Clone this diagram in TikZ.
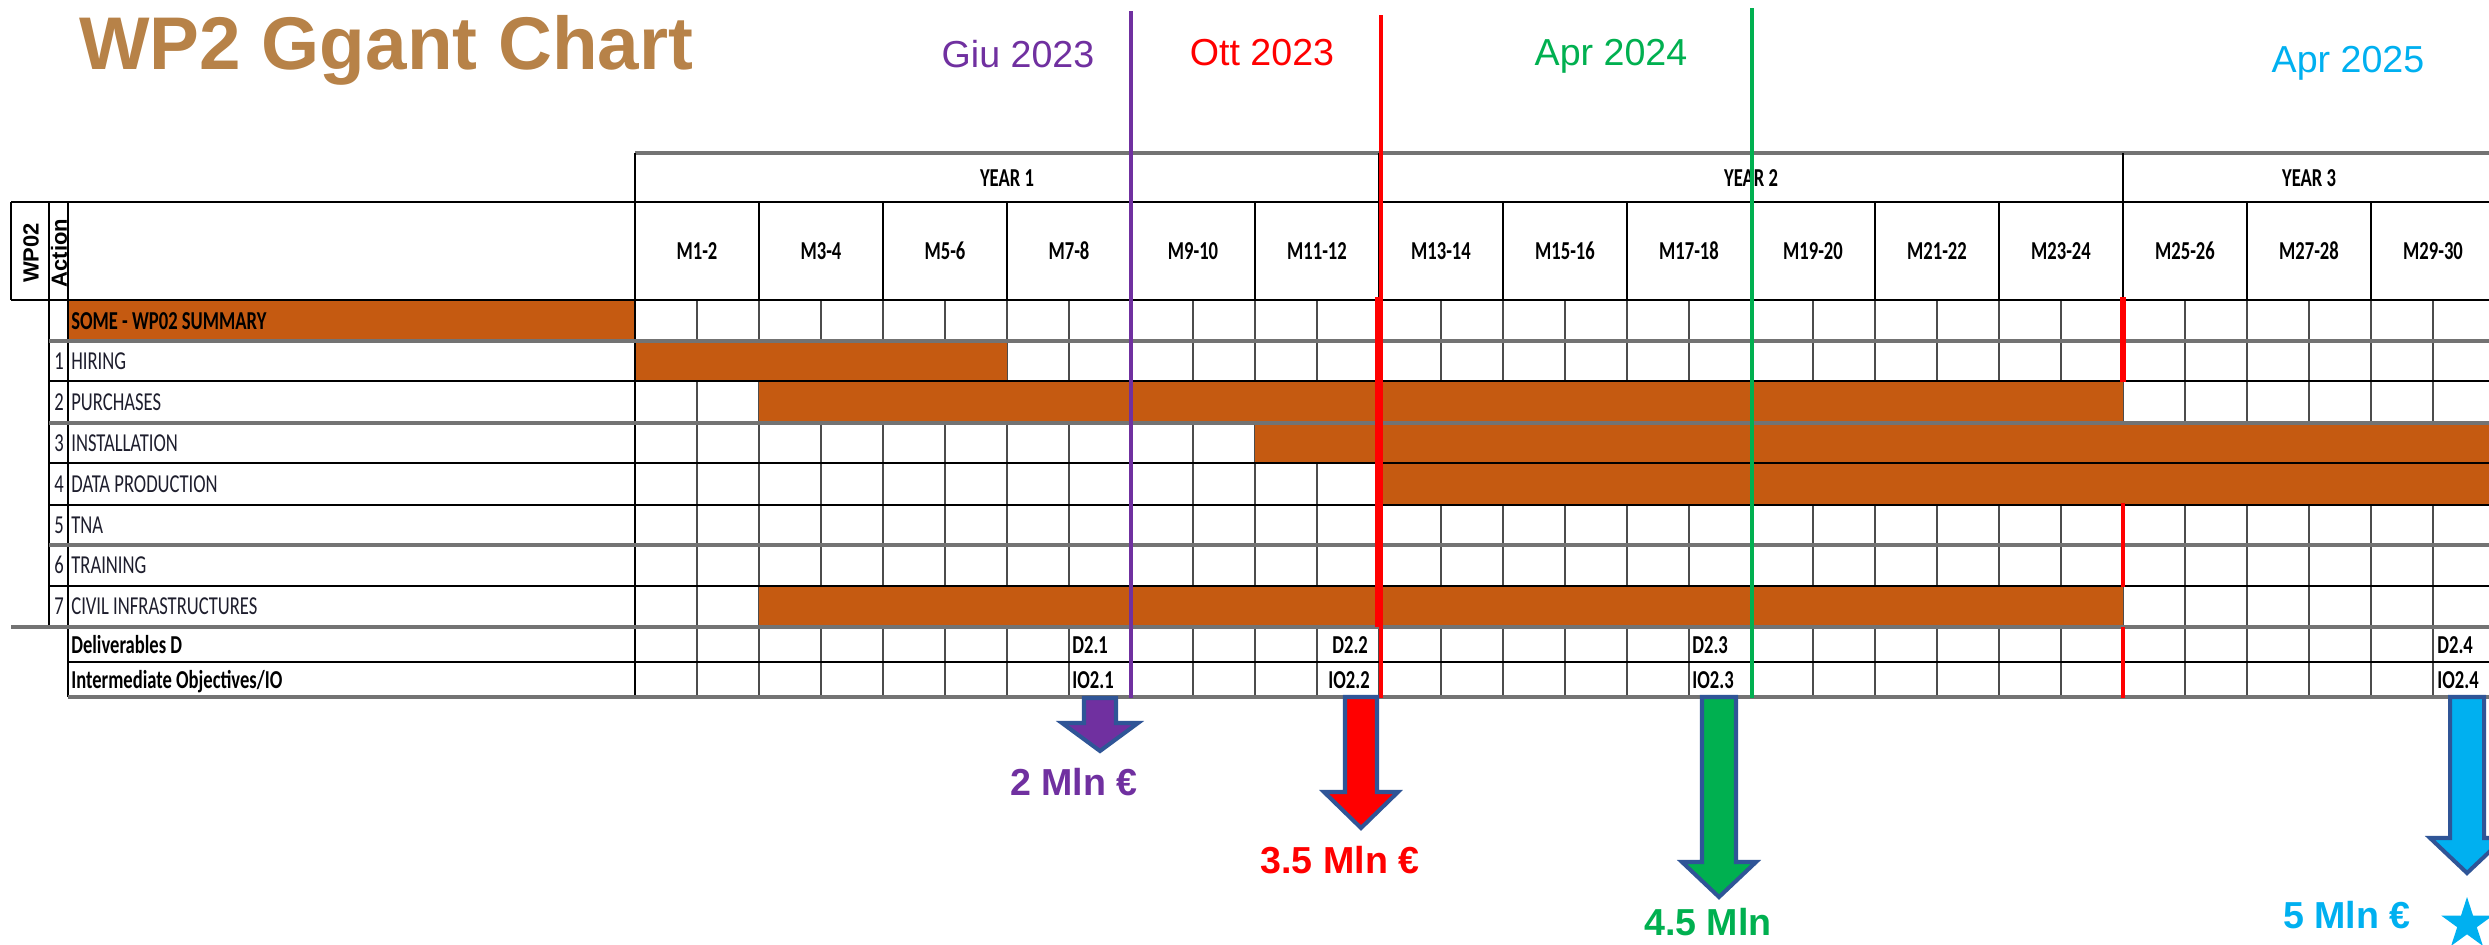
\documentclass[tikz,border=0pt]{standalone}
\usepackage{fontspec}
\setmainfont{Liberation Sans}
\newfontfamily\calib[FakeStretch=0.72]{Carlito}
\definecolor{orng}{HTML}{C55A11}
\definecolor{ttl}{RGB}{183,130,72}
\definecolor{pur}{HTML}{7030A0}
\definecolor{rd}{HTML}{FF0000}
\definecolor{grn}{HTML}{00B050}
\definecolor{cyn}{HTML}{00B0F0}
\definecolor{outl}{HTML}{2F5597}
\definecolor{txtd}{RGB}{30,30,45}
\tikzset{
  gridv/.style={draw=black!70, line width=1.1pt},
  rowblk/.style={draw=black, line width=1.3pt},
  rowgry/.style={draw=black!55, line width=1.9pt},
  barfill/.style={fill=orng},
  cal/.style={font=\calib\fontsize{14.7}{17}\selectfont, text=txtd, inner sep=0pt},
  calb/.style={font=\calib\bfseries\fontsize{14.7}{17}\selectfont, text=black, inner sep=0pt},
  datelbl/.style={font=\fontsize{21.4}{25}\selectfont, inner sep=0pt, anchor=base},
  money/.style={font=\bfseries\fontsize{21.4}{25}\selectfont, inner sep=0pt, anchor=base},
  blockarr/.style={draw=outl, line width=2.3pt, line join=miter},
}
\begin{document}
\begin{tikzpicture}[x=0.02cm, y=-0.02cm]
\useasboundingbox (0,0) rectangle (2489,944);
\fill[white] (0,0) rectangle (2489,944);
\begin{scope}
\clip (0,0) rectangle (2489,944);
% sub-cell vertical grid lines in body rows
\foreach \k in {0,...,30} \draw[gridv] ({635+62*\k},300) -- ({635+62*\k},697);
% bars
\fill[barfill] (68,300) rectangle (635,341);
\fill[barfill] (635,341) rectangle (1007,381);
\fill[barfill] (759,381) rectangle (2123,423);
\fill[barfill] (1255,423) rectangle (2495,463);
\fill[barfill] (1379,463) rectangle (2495,505);
\fill[barfill] (759,586) rectangle (2123,627);
% header grid
\draw[rowgry] (635,153) -- (2495,153);
\foreach \xx in {635,1379,2123} \draw[rowblk] (\xx,153) -- (\xx,202);
\draw[rowblk] (11,202) -- (2495,202);
\foreach \k in {0,...,15} \draw[rowblk] ({635+124*\k},202) -- ({635+124*\k},300);
\draw[rowblk] (11,300) -- (2495,300);
% left verticals
\draw[rowblk] (11,202) -- (11,300);
\draw[rowblk] (49,202) -- (49,627);
\draw[rowblk] (68,202) -- (68,697);
\draw[rowblk] (635,153) -- (635,697);
% row lines
\draw[rowgry] (49,341) -- (2495,341);
\draw[rowblk] (49,381) -- (2495,381);
\draw[rowgry] (49,423) -- (2495,423);
\draw[rowblk] (49,463) -- (2495,463);
\draw[rowblk] (49,505) -- (2495,505);
\draw[rowgry] (49,545) -- (2495,545);
\draw[rowblk] (49,586) -- (2495,586);
\draw[rowgry] (11,627) -- (2495,627);
\draw[rowblk] (68,662) -- (2495,662);
\draw[rowgry] (68,697) -- (2495,697);
% header texts
\node[calb, anchor=base] (y1) at (1007,186) {YEAR 1};
\node[calb, anchor=base] (y2) at (1751,186) {YEAR 2};
\node[calb, anchor=base] (y3) at (2309,186) {YEAR 3};
\foreach \lab [count=\i from 0] in {M1-2,M3-4,M5-6,M7-8,M9-10,M11-12,M13-14,M15-16,M17-18,M19-20,M21-22,M23-24,M25-26,M27-28,M29-30}
  \node[calb, anchor=base] (m\i) at ({697+124*\i},259.5) {\lab};
\node[font=\bfseries\fontsize{12.5}{14}\selectfont, rotate=90, inner sep=0pt] (wp) at (31,253) {WP02};
\node[font=\bfseries\fontsize{12.5}{14}\selectfont, rotate=90, inner sep=0pt] (act) at (59,253) {Action};
% row labels
\node[calb, anchor=base west] (r0) at (71,329) {SOME - WP02 SUMMARY};
\foreach \n/\t/\c in {1/HIRING/361, 2/PURCHASES/402, 3/INSTALLATION/443, 4/DATA PRODUCTION/484, 5/TNA/525, 6/TRAINING/565.5, 7/CIVIL INFRASTRUCTURES/606.5} {
  \node[cal, anchor=base] (n\n) at (59,\c+8.4) {\n};
  \node[cal, anchor=base west] (r\n) at (71,\c+8.4) {\t};
}
\node[calb, anchor=base west] (rd) at (71,653) {Deliverables D};
\node[calb, anchor=base west] (rio) at (71,688) {Intermediate Objectives/IO};
% deliverables
\node[calb, anchor=base west] (d1) at (1072,653) {D2.1};
\node[calb, anchor=base west] (i1) at (1072,688) {IO2.1};
\node[calb, anchor=base west] (d2) at (1332,653) {D2.2};
\node[calb, anchor=base west] (i2) at (1328,688) {IO2.2};
\node[calb, anchor=base west] (d3) at (1692,653) {D2.3};
\node[calb, anchor=base west] (i3) at (1692,688) {IO2.3};
\node[calb, anchor=base west] (d4) at (2437,653) {D2.4};
\node[calb, anchor=base west] (i4) at (2437,688) {IO2.4};
% milestone lines
\draw[pur, line width=2.8pt] (1131,11) -- (1131,698);
\draw[rd, line width=2.6pt] (1381,15) -- (1381,698);
\draw[rd, line width=4.2pt] (1379,297) -- (1379,627);
\draw[grn, line width=2.4pt] (1752,8) -- (1752,698);
\draw[rd, line width=3.4pt] (2123,297) -- (2123,382);
\draw[rd, line width=2.8pt] (2123,503) -- (2123,587);
\draw[rd, line width=2.4pt] (2123,627) -- (2123,698);
\end{scope}
% title and dates
\node[font=\bfseries\fontsize{42.5}{50}\selectfont, text=ttl, inner sep=0pt, anchor=base west] (title) at (79,69) {WP2 Ggant Chart};
\node[datelbl, text=pur] (giu) at (1018,67) {Giu 2023};
\node[datelbl, text=rd] (ott) at (1262,65) {Ott 2023};
\node[datelbl, text=grn] (apr4) at (1611,65) {Apr 2024};
\node[datelbl, text=cyn] (apr5) at (2348,72) {Apr 2025};
% block arrows
\begin{scope}
\clip (0,0) rectangle (2489,944);
\draw[blockarr, fill=pur] (1084,698) -- (1116,698) -- (1116,723) -- (1138,723) -- (1100,751) -- (1062,723) -- (1084,723) -- cycle;
\draw[blockarr, fill=rd] (1345,697) -- (1377,697) -- (1377,792) -- (1398,792) -- (1361,828) -- (1324,792) -- (1345,792) -- cycle;
\draw[blockarr, fill=grn] (1702,697) -- (1736,697) -- (1736,862) -- (1756,862) -- (1719,897) -- (1682,862) -- (1702,862) -- cycle;
\draw[blockarr, fill=cyn] (2450,697) -- (2484,697) -- (2484,838) -- (2504,838) -- (2467,873) -- (2430,838) -- (2450,838) -- cycle;
\fill[cyn, shift={(2467,924)}] (270:27) -- (306:10.3) -- (342:27) -- (18:10.3) -- (54:27) -- (90:10.3) -- (126:27) -- (162:10.3) -- (198:27) -- (234:10.3) -- cycle;
\end{scope}
\node[money, text=pur] (mon1) at (1074,795) {2 Mln €};
\node[money, text=rd] (mon2) at (1340,873) {3.5 Mln €};
\node[money, text=grn] (mon3) at (1708,935) {4.5 Mln};
\node[money, text=cyn] (mon4) at (2347,928) {5 Mln €};
\end{tikzpicture}
\end{document}
